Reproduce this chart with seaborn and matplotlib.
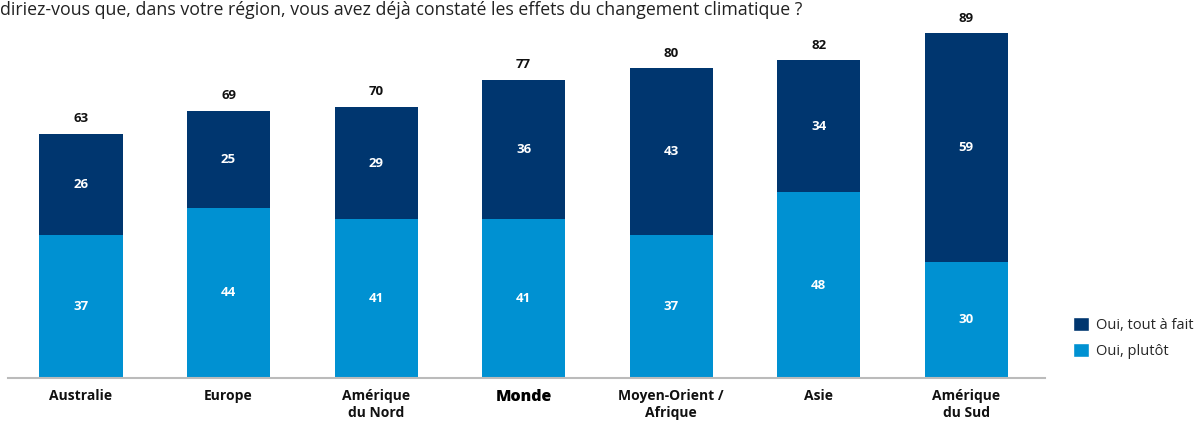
import matplotlib
matplotlib.use("Agg")
import matplotlib.pyplot as plt
import seaborn as sns
import pandas as pd
from matplotlib.patches import Patch

categories = ["Australie", "Europe", "Amérique\ndu Nord", "Monde",
              "Moyen-Orient /\nAfrique", "Asie", "Amérique\ndu Sud"]
oui_plutot = [37, 44, 41, 41, 37, 48, 30]
oui_tout_a_fait = [26, 25, 29, 36, 43, 34, 59]
totals = [63, 69, 70, 77, 80, 82, 89]

title = "diriez-vous que, dans votre région, vous avez déjà constaté les effets du changement climatique ?"

DARK = "#00366F"
LIGHT = "#0091D2"

sns.set_theme(style="white")
plt.rcParams['font.family'] = ['Open Sans', 'DejaVu Sans']

df = pd.DataFrame({
    "cat": categories,
    "plutot": oui_plutot,
    "tout": oui_tout_a_fait,
    "total": [p + t for p, t in zip(oui_plutot, oui_tout_a_fait)],
})

fig = plt.figure(figsize=(12.01, 4.22), dpi=100)
ax = fig.add_axes([8/1201, 44/422, (1045-8)/1201, 378/422])

sns.barplot(data=df, x="cat", y="total", color=DARK, width=0.563,
            saturation=1, linewidth=0, edgecolor="none", ax=ax)
sns.barplot(data=df, x="cat", y="plutot", color=LIGHT, width=0.563,
            saturation=1, linewidth=0, edgecolor="none", ax=ax)

ax.set_xlim(-0.495, 6.535)
ax.set_ylim(0, 97.6)

for i in range(len(categories)):
    p = oui_plutot[i]
    t = oui_tout_a_fait[i]
    ax.text(i, p / 2, str(p), ha="center", va="center", color="white",
            fontsize=9.5, fontweight="bold")
    ax.text(i, p + t / 2, str(t), ha="center", va="center", color="white",
            fontsize=9.5, fontweight="bold")
    ax.text(i, df["total"][i] + 2.2, str(totals[i]), ha="center", va="bottom",
            color="#111111", fontsize=9.5, fontweight="bold")

ax.set_xlabel("")
ax.set_ylabel("")
ax.set_yticks([])
ax.tick_params(axis="x", length=0, pad=8)
ax.set_xticks(range(len(categories)))
ax.set_xticklabels(categories, fontsize=10, fontweight="bold", color="#111111",
                   linespacing=1.25, va="top")
for lbl in ax.get_xticklabels():
    if lbl.get_text() == "Monde":
        lbl.set_fontsize(11.5)
        lbl.set_fontweight("heavy")
        lbl.set_color("#000000")

for s in ["top", "right", "left"]:
    ax.spines[s].set_visible(False)
ax.spines["bottom"].set_color("#bbbbbb")
ax.spines["bottom"].set_linewidth(1.5)

handles = [Patch(facecolor=DARK, label="Oui, tout à fait"),
           Patch(facecolor=LIGHT, label="Oui, plutôt")]
fig.legend(handles=handles, loc="upper left", bbox_to_anchor=(1070/1201, 1 - 314/422),
           frameon=False, fontsize=10.5, handlelength=1.1, handleheight=1.1,
           handletextpad=0.5, labelspacing=0.7, borderaxespad=0, borderpad=0.2)

fig.text(0, 1 - 15/422, title, ha="left", va="baseline", fontsize=12.8,
         color="#222222")

fig.savefig("out.png", dpi=100)
